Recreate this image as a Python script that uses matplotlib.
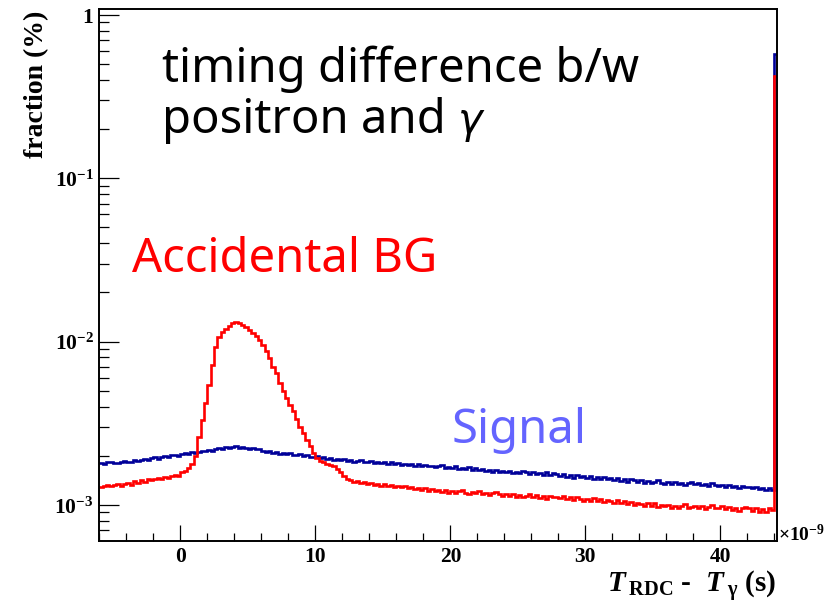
import numpy as np
import matplotlib
matplotlib.use("Agg")
import matplotlib.pyplot as plt
from matplotlib.ticker import MultipleLocator, FixedLocator, FixedFormatter, LogLocator, NullFormatter

# histogram binning (ns): 0.25 ns bins from -6 to 44, plus the last (overflow-like) bin
bin_width = 0.25
x_lo, x_hi = -6.0, 44.0
x_end = 44.15

# bin contents, in units of 1e-3 (last entry is the final bin)
signal_permille = [
    1.80, 1.79, 1.82, 1.84, 1.81, 1.80, 1.83, 1.85,
    1.82, 1.84, 1.87, 1.85, 1.88, 1.91, 1.89, 1.93,
    1.95, 1.92, 1.96, 1.99, 1.97, 2.01, 2.03, 2.00,
    2.04, 2.07, 2.05, 2.10, 2.08, 2.12, 2.15, 2.13,
    2.18, 2.15, 2.20, 2.24, 2.21, 2.27, 2.23, 2.25,
    2.28, 2.22, 2.26, 2.24, 2.20, 2.23, 2.19, 2.21,
    2.14, 2.10, 2.13, 2.08, 2.11, 2.06, 2.09, 2.04,
    2.07, 2.03, 2.01, 2.04, 1.99, 2.02, 1.97, 1.95,
    1.98, 1.93, 1.95, 1.91, 1.94, 1.89, 1.92, 1.87,
    1.90, 1.85, 1.88, 1.83, 1.86, 1.89, 1.84, 1.82,
    1.86, 1.81, 1.84, 1.80, 1.83, 1.78, 1.82, 1.79,
    1.81, 1.76, 1.79, 1.75, 1.78, 1.74, 1.77, 1.73,
    1.76, 1.72, 1.74, 1.70, 1.73, 1.75, 1.69, 1.71,
    1.68, 1.72, 1.66, 1.69, 1.65, 1.70, 1.64, 1.67,
    1.63, 1.66, 1.61, 1.64, 1.60, 1.63, 1.58, 1.61,
    1.59, 1.62, 1.57, 1.60, 1.56, 1.61, 1.58, 1.55,
    1.59, 1.54, 1.57, 1.53, 1.58, 1.52, 1.56, 1.54,
    1.51, 1.55, 1.49, 1.53, 1.47, 1.52, 1.48, 1.50,
    1.46, 1.51, 1.45, 1.49, 1.44, 1.48, 1.43, 1.46,
    1.42, 1.46, 1.40, 1.44, 1.39, 1.43, 1.41, 1.38,
    1.41, 1.37, 1.40, 1.36, 1.39, 1.42, 1.37, 1.35,
    1.39, 1.35, 1.38, 1.34, 1.37, 1.33, 1.36, 1.38,
    1.34, 1.37, 1.32, 1.35, 1.31, 1.36, 1.33, 1.30,
    1.33, 1.29, 1.32, 1.28, 1.31, 1.27, 1.30, 1.28,
    1.29, 1.26, 1.28, 1.25, 1.27, 1.24, 1.26, 1.23,
    577.0,
]

accidental_permille = [
    1.28, 1.31, 1.33, 1.30, 1.32, 1.35, 1.31, 1.34,
    1.37, 1.33, 1.40, 1.36, 1.42, 1.38, 1.45, 1.41,
    1.44, 1.47, 1.43, 1.48, 1.46, 1.50, 1.53, 1.51,
    1.58, 1.62, 1.68, 1.78, 2.00, 2.60, 3.30, 4.20,
    5.40, 7.20, 9.20, 10.6, 11.4, 12.0, 12.5, 12.9,
    13.1, 13.0, 12.7, 12.3, 11.8, 11.3, 10.8, 10.2,
    9.50, 8.80, 7.90, 7.00, 6.40, 5.60, 5.00, 4.50,
    4.10, 3.75, 3.35, 3.00, 2.75, 2.50, 2.28, 2.08,
    1.93, 1.85, 1.82, 1.79, 1.76, 1.72, 1.66, 1.60,
    1.51, 1.45, 1.42, 1.39, 1.40, 1.36, 1.38, 1.34,
    1.36, 1.32, 1.35, 1.31, 1.34, 1.30, 1.33, 1.29,
    1.31, 1.28, 1.30, 1.26, 1.29, 1.25, 1.27, 1.24,
    1.26, 1.22, 1.25, 1.21, 1.24, 1.20, 1.23, 1.19,
    1.22, 1.18, 1.21, 1.23, 1.19, 1.17, 1.20, 1.18,
    1.21, 1.17, 1.19, 1.15, 1.18, 1.20, 1.16, 1.14,
    1.17, 1.13, 1.16, 1.12, 1.15, 1.11, 1.14, 1.16,
    1.12, 1.15, 1.10, 1.13, 1.09, 1.14, 1.11, 1.12,
    1.10, 1.13, 1.08, 1.11, 1.07, 1.12, 1.09, 1.06,
    1.09, 1.06, 1.10, 1.05, 1.08, 1.04, 1.07, 1.05,
    1.03, 1.07, 1.02, 1.05, 1.01, 1.04, 1.00, 1.03,
    1.01, 0.98, 1.02, 0.99, 1.03, 0.97, 1.00, 0.98,
    1.00, 0.96, 0.99, 0.95, 0.98, 1.01, 0.96, 0.97,
    0.99, 0.95, 0.98, 0.94, 0.97, 1.00, 0.95, 0.96,
    0.98, 0.94, 0.97, 0.93, 0.96, 0.92, 0.95, 0.97,
    0.95, 0.92, 0.96, 0.91, 0.94, 0.90, 0.95, 0.93,
    423.0,
]

x_ticks = [0, 10, 20, 30, 40]
y_ticks = [1e-3, 1e-2, 1e-1, 1]
y_tick_labels = [r'$10^{-3}$', r'$10^{-2}$', r'$10^{-1}$', r'$1$']


def main():
    plt.rcParams['mathtext.fontset'] = 'custom'
    plt.rcParams['mathtext.rm'] = 'Liberation Serif:bold'
    plt.rcParams['mathtext.it'] = 'Liberation Serif:bold:italic'
    plt.rcParams['mathtext.bf'] = 'Liberation Serif:bold'
    plt.rcParams['mathtext.default'] = 'rm'

    edges = np.append(np.arange(x_lo, x_hi + 0.001, bin_width), x_end)
    signal = np.array(signal_permille) * 1e-3
    accidental = np.array(accidental_permille) * 1e-3

    W, H = 826, 608
    fig = plt.figure(figsize=(W / 100, H / 100), dpi=100)
    ax = fig.add_axes([99.3 / W, 1 - 540.5 / H, (776.5 - 99.3) / W, (540.5 - 9.3) / H])

    ax.stairs(signal, edges, baseline=None, color='#000099', linewidth=1.9)
    ax.stairs(accidental, edges, baseline=None, color='#ff0000', linewidth=1.9)

    ax.set_yscale('log')
    ax.set_xlim(x_lo, x_end)
    ax.set_ylim(6.05e-4, 1.083)

    for s in ax.spines.values():
        s.set_linewidth(1.4)

    ax.xaxis.set_major_locator(FixedLocator(x_ticks))
    ax.xaxis.set_minor_locator(MultipleLocator(2))
    ax.yaxis.set_major_locator(FixedLocator(y_ticks))
    ax.yaxis.set_major_formatter(FixedFormatter(y_tick_labels))
    ax.yaxis.set_minor_locator(LogLocator(base=10, subs=np.arange(2, 10)))
    ax.yaxis.set_minor_formatter(NullFormatter())

    ax.tick_params(axis='both', which='both', direction='in', top=False, right=False, width=0.9)
    ax.tick_params(axis='y', which='major', length=14.4, pad=4, labelsize=15.5)
    ax.tick_params(axis='y', which='minor', length=7.2)
    ax.tick_params(axis='x', which='major', length=11.5, pad=5, labelsize=15.5)
    ax.tick_params(axis='x', which='minor', length=5.8)
    for lab in ax.get_xticklabels():
        lab.set_fontfamily('Liberation Serif')
        lab.set_fontweight('bold')

    # axis titles
    fig.text(37 / W, 1 - 11 / H, 'fraction (%)', rotation=90, ha='center', va='top',
             fontsize=20, fontweight='bold', family='Liberation Serif')
    fig.text(776 / W, 1 - 604 / H,
             r'$\mathit{T}\,_{\mathrm{RDC}}$ -  $\mathit{T}\,_{\gamma}$ (s)',
             ha='right', va='bottom', fontsize=21, fontweight='bold', family='Liberation Serif')
    ax.annotate(r'$\times10^{-9}$', xy=(1, 0), xycoords='axes fraction', xytext=(1, 4),
                textcoords='offset points', ha='left', va='center', fontsize=14)

    # annotations
    big = dict(fontsize=34, family='Noto Sans', fontweight='light', va='baseline')
    fig.text(162 / W, 1 - 82 / H, 'timing difference b/w', color='black', **big)
    line2 = fig.text(162 / W, 1 - 133 / H, 'positron and', color='black', **big)
    renderer = fig.canvas.get_renderer()
    x_end_px = line2.get_window_extent(renderer=renderer).x1
    fig.text((x_end_px + 12) / W, 1 - 133 / H, '\u03b3', fontsize=30, style='italic',
             family='DejaVu Sans', color='black', va='baseline')
    fig.text(132 / W, 1 - 272 / H, 'Accidental BG', color='#ff0000', **big)
    fig.text(452 / W, 1 - 443 / H, 'Signal', color='#6464ff', **big)

    fig.savefig('out.png', dpi=100)
    plt.close(fig)


if __name__ == "__main__":
    main()
